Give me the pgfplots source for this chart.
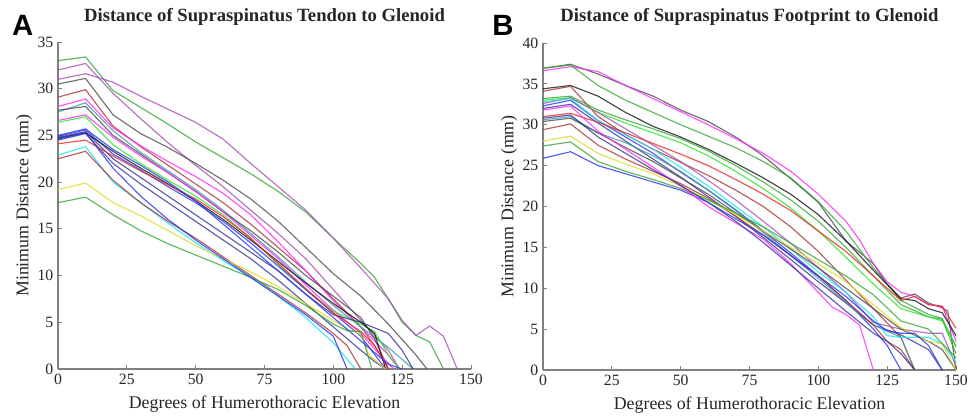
\documentclass[border=0pt]{standalone}
\usepackage{fontspec}
\setmainfont{Liberation Serif}
\newfontfamily\panelfont{Liberation Sans}
\usepackage{pgfplots}
\pgfplotsset{compat=1.18}

\definecolor{cblue}{rgb}{0.15,0.2,0.95}
\definecolor{cdblue}{rgb}{0.2,0.2,0.6}
\definecolor{cgreen}{rgb}{0.2,0.65,0.2}
\definecolor{clime}{rgb}{0.15,0.9,0.15}
\definecolor{cred}{rgb}{0.92,0.15,0.15}
\definecolor{ccyan}{rgb}{0.1,0.9,0.95}
\definecolor{cmag}{rgb}{1,0.15,1}
\definecolor{cyel}{rgb}{0.88,0.85,0.15}
\definecolor{cgray}{rgb}{0.3,0.3,0.3}
\definecolor{cblack}{rgb}{0.08,0.08,0.08}
\definecolor{cpurp}{rgb}{0.65,0.3,0.7}
\definecolor{cbrown}{rgb}{0.65,0.2,0.2}
\definecolor{cteal}{rgb}{0.25,0.6,0.65}

\pgfplotsset{
  panel/.style={
    scale only axis,
    height=245.25pt,
    xmin=0, xmax=150,
    ymin=0,
    xtick={0,25,...,150},
    axis x line*=bottom,
    axis y line*=left,
    axis line style={-, draw=black!50, line width=0.8pt},
    tick align=inside,
    major tick length=3pt,
    tick style={draw=black!50, line width=0.6pt},
    clip=false,
    /pgf/number format/assume math mode=true,
    tick label style={font=\fontsize{11.8}{14}\selectfont, text=black!85},
    label style={font=\fontsize{13.4}{15}\selectfont, text=black!85},
    title style={font=\fontsize{14}{16}\selectfont\bfseries, text=black!85,
      anchor=base},
    xlabel style={at={([yshift=-30pt]axis description cs:0.5,0)}, anchor=base},
    ylabel style={at={([xshift=-25.5pt]axis description cs:0,0.5)}, anchor=center},
    every axis plot/.append style={line width=0.85pt, opacity=0.8},
    xlabel={Degrees of Humerothoracic Elevation},
    ylabel={Minimum Distance (mm)},
  }
}

\begin{document}
\begin{tikzpicture}
\useasboundingbox (0,0) rectangle (726pt,312.75pt);

\node[font=\panelfont\fontsize{22}{22}\selectfont\bfseries] at (17pt,293.5pt) {A};
\node[font=\panelfont\fontsize{22}{22}\selectfont\bfseries] at (377.25pt,293.5pt) {B};

\begin{axis}[panel,
  at={(43.5pt,36pt)}, anchor=south west,
  width=309.75pt,
  ymax=35, ytick={0,5,...,35},
  title={Distance of Supraspinatus Tendon to Glenoid},
  title style={at={([yshift=9.5pt]axis description cs:0.5,1)}},
]
\addplot[cgreen] coordinates {(0,33.0) (10,33.4) (20,29.8) (30,28.0) (40,26.2) (50,24.3) (60,22.6) (70,20.9) (80,19.0) (90,16.8) (100,14.0) (110,11.3) (115,9.8) (120,7.5) (125,5.0) (130,3.6) (135,2.9) (140,0)};
\addplot[cpurp] coordinates {(0,31.0) (10,31.6) (20,30.7) (30,29.2) (40,27.8) (50,26.4) (60,24.6) (70,22.0) (80,19.5) (90,17.0) (100,14.0) (110,10.8) (120,7.5) (125,5.2) (130,3.6) (135,4.6) (140,3.5) (145,0)};
\addplot[cpurp] coordinates {(0,32.0) (10,32.7) (20,29.5) (30,26.8) (40,24.2) (50,21.8) (60,19.5) (70,17.0) (80,14.5) (90,11.8) (100,8.5) (110,5.2) (120,2.0) (124,0)};
\addplot[cgray] coordinates {(0,30.5) (10,31.1) (20,27.2) (30,25.2) (40,23.7) (50,22.0) (60,20.2) (70,18.2) (80,15.8) (90,13.0) (100,10.2) (110,7.8) (120,4.8) (130,1.5) (134,0)};
\addplot[cbrown] coordinates {(0,29.1) (10,29.9) (20,26.0) (30,23.8) (40,21.8) (50,19.8) (60,17.8) (70,15.5) (80,13.0) (90,10.5) (100,7.5) (110,4.5) (115,2.5) (120,0)};
\addplot[cmag] coordinates {(0,28.1) (10,28.9) (20,25.8) (30,23.9) (40,22.2) (50,20.6) (60,18.8) (70,16.5) (80,13.6) (90,10.5) (100,7.3) (110,4.5) (120,1.5) (124,0)};
\addplot[cteal] coordinates {(0,27.5) (10,28.5) (20,25.5) (30,23.2) (40,21.2) (50,19.2) (60,17.0) (70,14.5) (80,12.0) (90,9.3) (100,6.8) (110,4.5) (120,2.3) (129,0)};
\addplot[cgray] coordinates {(0,27.7) (10,28.1) (20,25.0) (30,23.0) (40,21.0) (50,19.0) (60,16.8) (70,14.8) (80,12.5) (90,10.0) (100,7.8) (110,5.5) (115,3.2) (120,0)};
\addplot[cmag] coordinates {(0,26.6) (10,27.2) (20,24.8) (30,22.8) (40,21.0) (50,19.0) (60,16.8) (70,14.3) (80,11.8) (90,9.0) (100,6.3) (110,3.8) (117,1.5) (122,0)};
\addplot[clime] coordinates {(0,26.4) (10,27.0) (20,24.0) (30,22.0) (40,20.2) (50,18.5) (60,16.5) (70,14.0) (80,11.2) (90,8.5) (100,6.2) (110,4.8) (115,4.0) (120,1.5) (124,0)};
\addplot[cblue] coordinates {(0,24.9) (10,25.6) (20,23.0) (30,21.3) (40,19.5) (50,17.8) (60,15.8) (70,13.5) (80,11.0) (90,8.5) (100,6.0) (110,3.5) (119,0)};
\addplot[cdblue] coordinates {(0,24.8) (10,25.4) (20,22.5) (30,20.5) (40,18.5) (50,16.5) (60,14.5) (70,12.5) (80,10.5) (90,8.0) (100,5.8) (110,5.0) (120,3.8) (125,2.0) (129,0)};
\addplot[cblack] coordinates {(0,24.7) (10,25.3) (20,23.3) (30,21.5) (40,19.8) (50,18.0) (60,16.0) (70,13.8) (80,11.5) (90,9.2) (100,7.0) (110,5.0) (115,3.8) (119,0)};
\addplot[cdblue] coordinates {(0,24.5) (10,25.2) (20,22.0) (30,19.8) (40,17.8) (50,15.8) (60,13.8) (70,11.8) (80,9.5) (90,7.0) (100,4.5) (110,2.0) (115,0.8) (119,0)};
\addplot[cred] coordinates {(0,24.1) (10,24.5) (20,22.8) (30,21.2) (40,19.7) (50,18.2) (60,16.3) (70,14.0) (80,11.3) (90,8.6) (100,6.0) (110,4.0) (115,2.5) (120,0)};
\addplot[ccyan] coordinates {(0,22.9) (10,23.8) (20,20.0) (30,17.8) (40,15.6) (50,13.5) (60,11.6) (70,9.8) (80,7.8) (90,5.5) (100,2.8) (108,0)};
\addplot[cbrown] coordinates {(0,22.5) (10,23.3) (20,20.2) (30,17.8) (40,15.8) (50,14.0) (60,12.0) (70,10.0) (80,8.0) (90,6.0) (100,3.8) (105,2.5) (110,0)};
\addplot[cyel] coordinates {(0,19.2) (10,19.9) (20,17.8) (30,16.4) (40,14.8) (50,13.2) (60,11.8) (70,10.4) (80,8.8) (90,7.0) (100,5.2) (105,4.3) (110,3.7) (113,1.5) (119,0)};
\addplot[cgreen] coordinates {(0,17.8) (10,18.4) (20,16.5) (30,14.8) (40,13.4) (50,12.2) (60,11.0) (70,9.8) (80,8.5) (90,6.8) (100,4.8) (105,4.1) (110,4.0) (114,0)};
\addplot[cblue] coordinates {(0,24.6) (10,25.3) (20,21.5) (30,18.5) (40,16.0) (50,13.8) (60,11.8) (70,9.8) (80,7.8) (90,5.8) (100,3.5) (105,0)};
\addplot[cblue] coordinates {(0,25.0) (10,25.7) (20,23.5) (30,21.8) (40,20.0) (50,18.0) (60,15.5) (70,13.0) (80,10.5) (90,8.0) (100,5.5) (110,3.0) (120,0.5) (125,0)};
\end{axis}

\begin{axis}[panel,
  at={(407.25pt,35.25pt)}, anchor=south west,
  width=309.75pt,
  ymax=40, ytick={0,5,...,40},
  title={Distance of Supraspinatus Footprint to Glenoid},
  title style={at={([yshift=10pt]axis description cs:0.5,1)}},
]
\addplot[cgray] coordinates {(0,36.9) (10,37.4) (20,36.2) (30,34.8) (40,33.5) (50,31.8) (60,30.4) (70,28.5) (80,26.2) (90,23.4) (100,20.5) (110,15.8) (120,13.0) (125,10.5) (130,8.8) (135,9.3) (140,8.2) (145,7.6) (147,7.2) (150,0)};
\addplot[cmag] coordinates {(0,36.6) (10,37.1) (20,36.5) (30,34.8) (40,33.2) (50,31.6) (60,30.0) (70,28.3) (80,26.5) (90,24.3) (100,21.5) (110,18.2) (115,15.9) (120,13.0) (125,10.8) (130,9.5) (135,9.0) (140,8.0) (145,7.8) (150,3.5)};
\addplot[cgreen] coordinates {(0,36.9) (10,37.3) (20,34.8) (30,33.0) (40,31.5) (50,30.0) (60,28.6) (70,27.2) (80,25.5) (90,23.5) (100,20.6) (110,17.0) (120,12.5) (130,8.5) (140,6.8) (145,6.3) (150,2.8)};
\addplot[cblack] coordinates {(0,34.4) (10,34.8) (20,33.5) (30,31.5) (40,29.8) (50,28.5) (60,27.0) (70,25.3) (80,23.5) (90,21.5) (100,19.0) (110,15.8) (120,12.2) (130,8.7) (135,8.5) (140,7.5) (145,7.0) (150,4.2)};
\addplot[cbrown] coordinates {(0,34.1) (10,34.7) (20,31.0) (30,28.8) (40,27.0) (50,25.4) (60,23.8) (70,22.0) (80,20.0) (90,17.5) (100,14.5) (110,11.0) (120,7.5) (130,4.0) (135,0)};
\addplot[cgreen] coordinates {(0,33.2) (10,33.5) (20,31.8) (30,30.6) (40,29.5) (50,28.3) (60,26.8) (70,25.0) (80,23.0) (90,20.8) (100,18.2) (110,15.0) (120,11.5) (130,8.0) (140,6.5) (145,6.2) (150,2.0)};
\addplot[clime] coordinates {(0,33.0) (10,33.3) (20,31.5) (30,30.2) (40,29.0) (50,27.8) (60,26.2) (70,24.3) (80,22.2) (90,19.8) (100,17.0) (110,13.8) (120,10.5) (130,7.5) (140,6.5) (145,6.0) (150,3.0)};
\addplot[cpurp] coordinates {(0,32.6) (10,33.3) (20,31.5) (30,29.5) (40,27.5) (50,25.5) (60,23.2) (70,20.8) (80,18.2) (90,15.5) (100,12.5) (110,9.5) (120,5.8) (130,5.0) (140,4.5) (145,4.5) (150,0.5)};
\addplot[cblue] coordinates {(0,32.3) (10,33.0) (20,30.5) (30,28.5) (40,26.5) (50,24.2) (60,22.0) (70,19.6) (80,17.0) (90,14.3) (100,11.5) (110,8.5) (120,5.0) (125,3.0) (130,0)};
\addplot[cdblue] coordinates {(0,32.0) (10,32.5) (20,30.2) (30,28.0) (40,25.8) (50,23.6) (60,21.2) (70,18.8) (80,16.2) (90,13.5) (100,10.8) (110,8.2) (120,5.5) (130,4.3) (140,2.5) (145,0)};
\addplot[ccyan] coordinates {(0,32.8) (10,33.2) (20,30.5) (30,28.8) (40,27.0) (50,24.8) (60,22.5) (70,20.0) (80,17.5) (90,14.8) (100,12.0) (110,9.5) (120,6.5) (125,4.2) (130,4.0) (140,4.0) (145,3.2) (150,1.0)};
\addplot[cred] coordinates {(0,31.0) (10,31.4) (20,30.3) (30,29.0) (40,27.7) (50,26.4) (60,25.0) (70,23.3) (80,21.5) (90,19.5) (100,17.0) (110,14.5) (120,11.5) (130,8.5) (135,9.0) (140,8.0) (145,7.8) (150,5.1)};
\addplot[cteal] coordinates {(0,30.6) (10,31.0) (20,29.0) (30,27.8) (40,26.2) (50,24.3) (60,22.0) (70,19.5) (80,16.8) (90,14.0) (100,11.2) (110,8.3) (120,5.5) (130,4.0) (135,0)};
\addplot[cgray] coordinates {(0,30.4) (10,30.8) (20,29.0) (30,27.2) (40,25.5) (50,23.5) (60,21.5) (70,19.2) (80,17.0) (90,14.8) (100,12.5) (110,10.0) (120,7.5) (130,5.0) (140,3.5) (145,2.5) (150,0)};
\addplot[cbrown] coordinates {(0,29.4) (10,30.1) (20,27.5) (30,25.8) (40,24.3) (50,22.8) (60,21.0) (70,18.8) (80,16.5) (90,14.0) (100,11.5) (110,8.5) (120,5.5) (125,3.5) (130,2.5) (135,0)};
\addplot[cyel] coordinates {(0,28.0) (10,28.6) (20,26.5) (30,25.2) (40,24.0) (50,22.5) (60,20.8) (70,19.0) (80,17.0) (90,15.0) (100,13.0) (110,10.8) (120,8.0) (130,5.2) (140,3.5) (145,3.2) (150,0)};
\addplot[cgreen] coordinates {(0,27.4) (10,27.9) (20,25.5) (30,24.3) (40,23.3) (50,22.2) (60,20.8) (70,19.2) (80,17.5) (90,15.5) (100,13.5) (110,11.5) (120,9.2) (130,6.0) (140,5.0) (150,1.5)};
\addplot[cblue] coordinates {(0,25.9) (10,26.7) (20,25.0) (30,24.0) (40,23.0) (50,22.0) (60,20.5) (70,18.5) (80,16.5) (90,14.0) (100,11.5) (110,9.0) (120,6.0) (125,4.8) (130,4.5) (135,4.5) (140,3.0) (145,0)};
\addplot[cmag] coordinates {(0,31.8) (10,32.3) (20,29.2) (30,27.0) (40,24.8) (50,22.5) (60,20.0) (70,18.0) (80,16.0) (90,13.0) (100,9.5) (105,7.7) (110,6.8) (115,5.5) (120,0)};
\addplot[cdblue] coordinates {(0,30.8) (10,31.2) (20,28.5) (30,26.5) (40,24.5) (50,22.6) (60,20.5) (70,18.2) (80,15.6) (90,12.8) (100,10.0) (110,7.2) (120,4.5) (125,3.5) (130,2.0) (135,0)};
\end{axis}
\end{tikzpicture}
\end{document}
